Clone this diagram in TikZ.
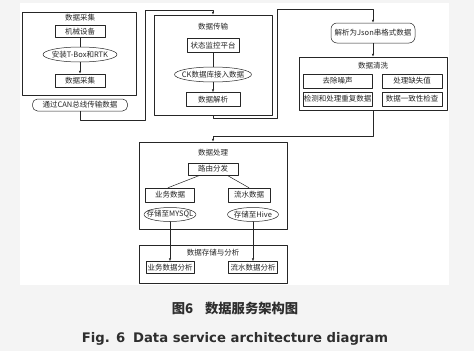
\documentclass[tikz,border=0pt]{standalone}
\usepackage{fontspec}
\setmainfont{Liberation Serif}
\newfontfamily\cjk{Noto Sans CJK SC}
\newfontfamily\capfont{DejaVu Sans}
\usetikzlibrary{arrows.meta,shapes.geometric}
\definecolor{pagegray}{HTML}{F4F4F4}
\definecolor{capgray}{HTML}{2E2E2E}
\tikzset{
  boxtext/.style={font=\cjk\fontsize{7.5}{8.5}\selectfont},
  box/.style={draw, rectangle, inner sep=0pt, boxtext},
  oval/.style={draw, ellipse, inner xsep=-8pt, inner ysep=0pt, boxtext},
  pill/.style={draw, rectangle, rounded corners=5pt, inner sep=0pt, boxtext},
  frame/.style={draw, rectangle, inner sep=0pt},
  title/.style={boxtext},
  flow/.style={-{Latex[length=3pt,width=2.4pt]}},
}

\begin{document}
\begin{tikzpicture}[line width=0.5pt, line cap=round, line join=round, x=1pt, y=-1pt, color=black!85]
  % Page and picture panel.
  \fill[pagegray] (0,0) rectangle (474,351);
  \fill[white] (20,3) rectangle (449,285);

  % Data acquisition.
  \node[frame, minimum width=114pt, minimum height=83pt] (acq) at (79,53.5) {};
  \node[title] (acqtitle) at (80,18) {数据采集};
  \node[box, minimum width=50pt, minimum height=12pt] (machine) at (80,31.5) {机械设备};
  \node[oval, minimum width=74pt, minimum height=15pt] (tbox) at (80,54.5) {安装T-Box和RTK};
  \node[box, minimum width=50pt, minimum height=13pt] (collect) at (80,80.5) {数据采集};
  \node[pill, minimum width=95pt, minimum height=12pt] (can) at (80,105) {通过CAN总线传输数据};
  \draw (machine) -- (tbox);
  \draw[flow] (tbox) -- (collect);

  % Data transmission.
  \node[frame, minimum width=118pt, minimum height=100pt] (trans) at (213,65) {};
  \node[title] (transtitle) at (213,27) {数据传输};
  \node[box, minimum width=52pt, minimum height=14pt] (monitor) at (213,45.5) {状态监控平台};
  \node[oval, minimum width=77pt, minimum height=15pt] (ck) at (213,74.5) {CK数据库接入数据};
  \node[box, minimum width=54pt, minimum height=14pt] (parse) at (213,99.5) {数据解析};
  \draw (monitor) -- (ck);
  \draw[flow] (ck) -- (parse);

  % Data cleaning.
  \node[pill, rounded corners=6pt, minimum width=84pt, minimum height=20pt] (json) at (373,33) {解析为Json串格式数据};
  \node[frame, minimum width=148pt, minimum height=53pt] (clean) at (373,83.5) {};
  \node[title] (cleantitle) at (373,66) {数据清洗};
  \node[box, minimum width=69pt, minimum height=14pt] (noise) at (337.5,81) {去除噪声};
  \node[box, minimum width=60pt, minimum height=14pt] (missing) at (412,81) {处理缺失值};
  \node[box, minimum width=69pt, minimum height=14pt] (dup) at (337.5,99) {检测和处理重复数据};
  \node[box, minimum width=60pt, minimum height=14pt] (consist) at (412,99) {数据一致性检查};
  \draw[flow] (json) -- (clean);

  % Data processing.
  \node[frame, minimum width=148pt, minimum height=87pt] (proc) at (213,185.5) {};
  \node[title] (proctitle) at (213,153) {数据处理};
  \node[box, minimum width=50pt, minimum height=12pt] (route) at (213,169) {路由分发};
  \node[box, minimum width=49pt, minimum height=14pt] (biz) at (170,195) {业务数据};
  \node[box, minimum width=42pt, minimum height=14pt] (stream) at (249,195) {流水数据};
  \node[oval, minimum width=52pt, minimum height=14pt] (mysql) at (170,214.5) {存储至MYSQL};
  \node[oval, minimum width=51pt, minimum height=14pt] (hive) at (253,214.5) {存储至Hive};
  \draw ([xshift=-13pt]route.south) -- ([xshift=-2pt]biz.north);
  \draw ([xshift=14pt]route.south) -- (stream.north);

  % Data storage and analysis.
  \node[frame, minimum width=148pt, minimum height=38pt] (store) at (213,264) {};
  \node[title] (storetitle) at (213,253) {数据存储与分析};
  \node[box, minimum width=48pt, minimum height=12pt] (bizana) at (170,267.5) {业务数据分析};
  \node[box, minimum width=49pt, minimum height=12pt] (streamana) at (253,267.5) {流水数据分析};
  \draw[flow] (mysql) -- (bizana);
  \draw[flow] (hive) -- (streamana);

  % Links between the stages.
  \draw[flow] (can.south) -- ++(0,9) -| (145,10) -| (trans.north);
  \draw[flow] (trans.south) -- ++(0,3) -| (277,9) -| (json.north);
  \draw[flow] (clean.south) -- ++(0,26) -| (proc.north);

  % Captions.
  \node[font=\cjk\bfseries\fontsize{13.3}{15}\selectfont, text=capgray] (capcn) at (235,308) {图6\hspace{0.9em}数据服务架构图};
  \node[font=\capfont\bfseries\fontsize{13.2}{15}\selectfont, text=capgray] (capen) at (235,339) {Fig. 6\hspace{0.6em}Data service architecture diagram};
\end{tikzpicture}
\end{document}
